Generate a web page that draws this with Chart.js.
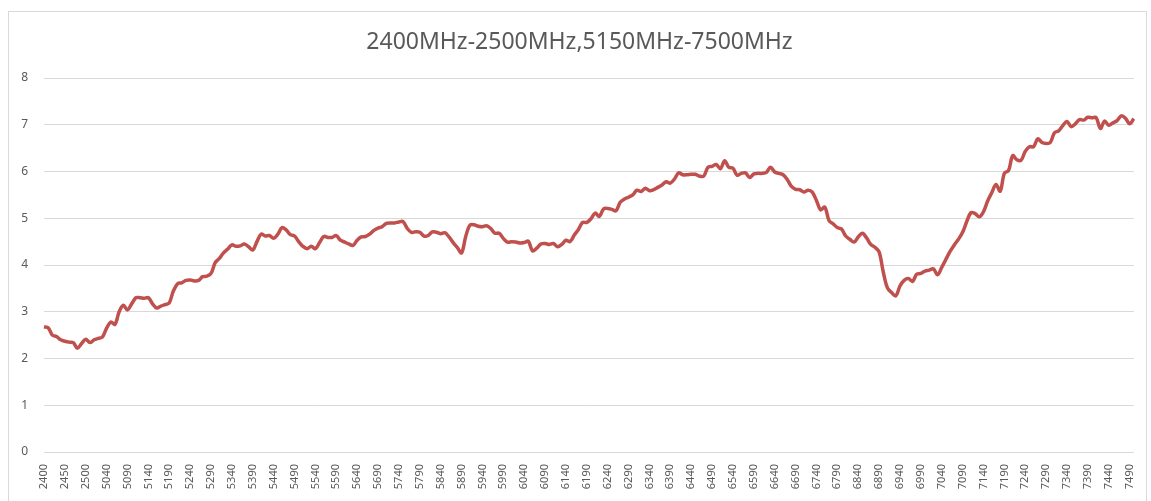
<!DOCTYPE html>
<html>
<head>
<meta charset="utf-8">
<script src="https://cdn.jsdelivr.net/npm/chart.js@4/dist/chart.umd.min.js"></script>
<style>
  html, body { margin: 0; padding: 0; background: #fff; }
</style>
</head>
<body>
<canvas id="myChart" width="1151" height="501"></canvas>
<script>
// frequency axis: 2400-2500 then 5000-7500, 10 MHz steps
const lowBand = [2400, 2410, 2420, 2430, 2440, 2450, 2460, 2470, 2480, 2490, 2500];
const highBandStart = 5000;
const highBandEnd = 7500;

const gain = [
    2.68, 2.66, 2.50, 2.47, 2.40, 2.37, 2.35, 2.34, 2.22, 2.32,
    2.41, 2.34, 2.40, 2.43, 2.46, 2.65, 2.78, 2.73, 3.00, 3.14,
    3.04, 3.17, 3.30, 3.30, 3.29, 3.30, 3.17, 3.08, 3.12, 3.15,
    3.19, 3.45, 3.60, 3.62, 3.67, 3.68, 3.66, 3.67, 3.75, 3.76,
    3.82, 4.05, 4.14, 4.26, 4.34, 4.43, 4.40, 4.41, 4.45, 4.39,
    4.32, 4.50, 4.66, 4.62, 4.63, 4.57, 4.66, 4.80, 4.75, 4.65,
    4.62, 4.50, 4.40, 4.35, 4.40, 4.35, 4.48, 4.61, 4.59, 4.59,
    4.63, 4.53, 4.49, 4.45, 4.42, 4.53, 4.60, 4.61, 4.66, 4.74,
    4.79, 4.82, 4.89, 4.90, 4.90, 4.92, 4.93, 4.78, 4.70, 4.71,
    4.70, 4.62, 4.63, 4.71, 4.70, 4.67, 4.69, 4.60, 4.48, 4.37,
    4.26, 4.61, 4.85, 4.86, 4.83, 4.82, 4.84, 4.78, 4.68, 4.68,
    4.57, 4.49, 4.50, 4.49, 4.47, 4.48, 4.51, 4.30, 4.36, 4.45,
    4.46, 4.44, 4.46, 4.39, 4.44, 4.53, 4.50, 4.64, 4.76, 4.91,
    4.91, 4.99, 5.11, 5.04, 5.20, 5.21, 5.19, 5.16, 5.34, 5.41,
    5.45, 5.50, 5.60, 5.57, 5.64, 5.59, 5.61, 5.66, 5.71, 5.78,
    5.75, 5.84, 5.97, 5.93, 5.93, 5.94, 5.94, 5.90, 5.90, 6.09,
    6.11, 6.15, 6.06, 6.23, 6.09, 6.07, 5.92, 5.96, 5.97, 5.87,
    5.95, 5.96, 5.96, 5.98, 6.09, 5.99, 5.96, 5.93, 5.83, 5.68,
    5.62, 5.61, 5.56, 5.60, 5.56, 5.38, 5.18, 5.24, 4.95, 4.88,
    4.80, 4.77, 4.62, 4.55, 4.49, 4.60, 4.68, 4.58, 4.44, 4.38,
    4.28, 3.85, 3.51, 3.41, 3.34, 3.55, 3.67, 3.71, 3.65, 3.80,
    3.82, 3.87, 3.89, 3.92, 3.79, 3.95, 4.12, 4.29, 4.43, 4.55,
    4.70, 4.93, 5.12, 5.10, 5.03, 5.14, 5.37, 5.55, 5.72, 5.58,
    5.96, 6.02, 6.34, 6.25, 6.24, 6.43, 6.53, 6.53, 6.70, 6.62,
    6.60, 6.62, 6.83, 6.87, 6.98, 7.07, 6.96, 7.02, 7.11, 7.10,
    7.16, 7.15, 7.15, 6.92, 7.08, 6.99, 7.04, 7.09, 7.19, 7.14,
    7.02, 7.13
];

const freqs = lowBand.slice();
for (let f = highBandStart; f <= highBandEnd; f += 10) {
    freqs.push(f);
}
const labels = freqs.map(String);

const textColor = "#595959";
const gridColor = "#d9d9d9";

// light frame round the whole chart, like the office chart border
const frame = {
    id: "frame",
    beforeDraw(chart) {
        const c = chart.ctx;
        c.save();
        c.fillStyle = "#fff";
        c.fillRect(0, 0, chart.width, chart.height);
        c.strokeStyle = "#d9d9d9";
        c.lineWidth = 1;
        c.strokeRect(8.5, 11.5, 1138, 500);
        c.restore();
    }
};

new Chart(document.getElementById("myChart"), {
    type: "line",
    data: {
        labels,
        datasets: [{
            label: "gain",
            data: gain,
            borderColor: "#c0504d",
            borderWidth: 3.5,
            pointRadius: 0,
            tension: 0.35,
            fill: false
        }]
    },
    options: {
        responsive: false,
        animation: false,
        layout: { padding: { left: 20, right: 12, top: 0, bottom: 0 } },
        plugins: {
            legend: { display: false },
            tooltip: { enabled: false },
            title: {
                display: true,
                text: "2400MHz-2500MHz,5150MHz-7500MHz",
                color: textColor,
                font: { family: "'Noto Sans', sans-serif", size: 23, weight: "normal" },
                padding: { top: 29, bottom: 21.4 }
            }
        },
        scales: {
            x: {
                offset: false,
                grid: { display: false },
                border: { display: false },
                ticks: {
                    autoSkip: false,
                    minRotation: 90,
                    maxRotation: 90,
                    padding: 4,
                    color: textColor,
                    font: { family: "'Noto Sans', sans-serif", size: 11 },
                    callback: (v, i) => (i % 5 === 0 ? labels[i] : "")
                },
                afterFit: (scale) => { scale.height = 49; }
            },
            y: {
                min: 0,
                max: 8,
                grid: { color: gridColor, drawTicks: false },
                border: { display: false },
                ticks: {
                    stepSize: 1,
                    padding: 16,
                    color: textColor,
                    font: { family: "'Noto Sans', sans-serif", size: 12 }
                },
                afterFit: (scale) => { scale.width = 24; }
            }
        }
    },
    plugins: [frame]
});
</script>
</body>
</html>
